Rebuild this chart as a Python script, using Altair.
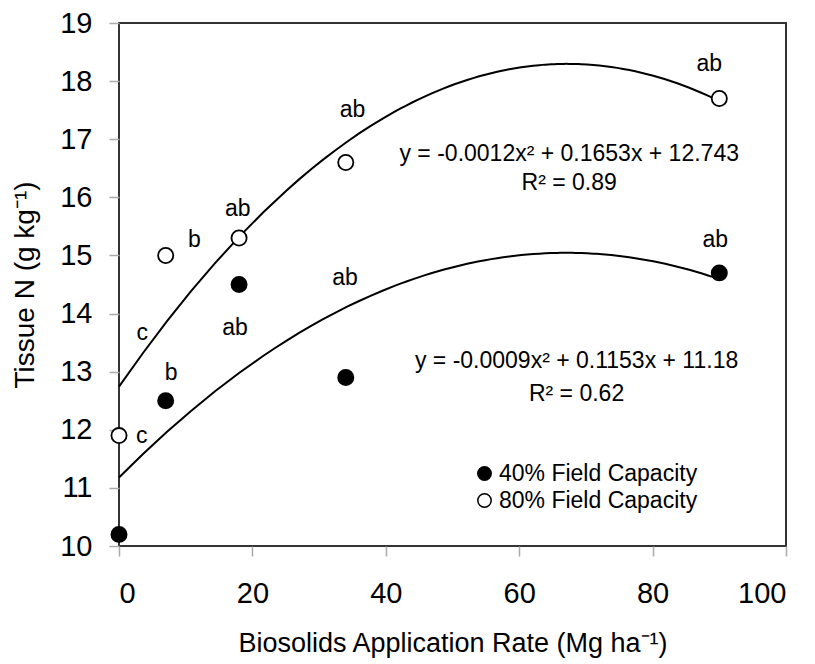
import altair as alt
import pandas as pd

# ---- data ----
rate = [0, 7, 18, 34, 90]
n40 = [10.2, 12.5, 14.5, 12.9, 14.7]
n80 = [11.9, 15.0, 15.3, 16.6, 17.7]
series_names = ["40% Field Capacity", "80% Field Capacity"]

# significance letters (x, y, text)
letter_x = [3.4, 11.3, 17.8, 35.0, 88.5, 3.5, 7.8, 17.4, 33.9, 89.4]
letter_y = [11.9, 15.27, 15.8, 17.5, 18.3, 13.67, 12.97, 13.75, 14.62, 15.27]
letter_t = ["c", "b", "ab", "ab", "ab", "c", "b", "ab", "ab", "ab"]

# equation annotations
eq_x = [67.5, 67.5, 68.6, 68.6]
eq_y = [16.75, 16.24, 13.18, 12.61]
eq_t = ["y = -0.0012x\u00b2 + 0.1653x + 12.743", "R\u00b2 = 0.89",
        "y = -0.0009x\u00b2 + 0.1153x + 11.18", "R\u00b2 = 0.62"]

FONT = "Liberation Sans"

pts = pd.DataFrame({
    "rate": rate * 2,
    "N": n40 + n80,
    "series": [series_names[0]] * len(rate) + [series_names[1]] * len(rate),
})
letters = pd.DataFrame({"x": letter_x, "y": letter_y, "t": letter_t})
eqs = pd.DataFrame({"x": eq_x, "y": eq_y, "t": eq_t})

xs = alt.Scale(domain=[0, 100], nice=False)
ys = alt.Scale(domain=[10, 19], nice=False, zero=False)

xaxis = alt.Axis(values=[0, 20, 40, 60, 80, 100], format="d",
                 title="Biosolids Application Rate (Mg ha\u207b\u00b9)",
                 labelFontSize=29, titleFontSize=27, labelPadding=23, titlePadding=22,
                 tickSize=10, tickColor="#aaaaaa", tickWidth=1.5, grid=False, domain=False,
                 labelColor="black", titleColor="black", titleFontWeight="normal",
                 labelFont=FONT, titleFont=FONT)
yaxis = alt.Axis(values=list(range(10, 20)), format="d", title="Tissue N (g kg\u207b\u00b9)",
                 labelFontSize=29, titleFontSize=28, labelPadding=17, titlePadding=20,
                 tickSize=10, tickColor="#aaaaaa", tickWidth=1.5, grid=False, domain=False,
                 labelColor="black", titleColor="black", titleFontWeight="normal",
                 labelFont=FONT, titleFont=FONT)

base = alt.Chart(pts)

curves = base.transform_regression(
    "rate", "N", method="poly", order=2, groupby=["series"], extent=[0, 90]
).mark_line(color="black", strokeWidth=2).encode(
    x=alt.X("rate:Q", scale=xs, axis=xaxis),
    y=alt.Y("N:Q", scale=ys, axis=yaxis),
    detail="series:N",
)

points = base.mark_point(shape="circle", size=230, filled=True, stroke="black",
                         strokeWidth=1.8, opacity=1).encode(
    x=alt.X("rate:Q", scale=xs),
    y=alt.Y("N:Q", scale=ys),
    fill=alt.Fill("series:N",
                  scale=alt.Scale(domain=series_names, range=["black", "white"]),
                  legend=alt.Legend(title=None, orient="none", legendX=354, legendY=439,
                                    labelFontSize=23, labelFont=FONT, labelColor="black",
                                    labelLimit=0,
                                    symbolSize=180, symbolStrokeColor="black",
                                    symbolStrokeWidth=1.5, labelOffset=3, rowPadding=3,
                                    symbolType="circle")),
)

letter_marks = alt.Chart(letters).mark_text(font=FONT, fontSize=23, color="black").encode(
    x=alt.X("x:Q", scale=xs), y=alt.Y("y:Q", scale=ys), text="t:N"
)
eq_marks = alt.Chart(eqs).mark_text(font=FONT, fontSize=23, color="black").encode(
    x=alt.X("x:Q", scale=xs), y=alt.Y("y:Q", scale=ys), text="t:N"
)

chart = alt.layer(curves, points, letter_marks, eq_marks).properties(
    width=667, height=523,
    autosize=alt.AutoSizeParams(type="none"),
    padding={"left": 111, "top": 15, "right": 20, "bottom": 116},
    background="white",
).configure_view(stroke="#333333", strokeWidth=2)

chart.save("out.html", embed_options={"renderer": "svg", "actions": False})
